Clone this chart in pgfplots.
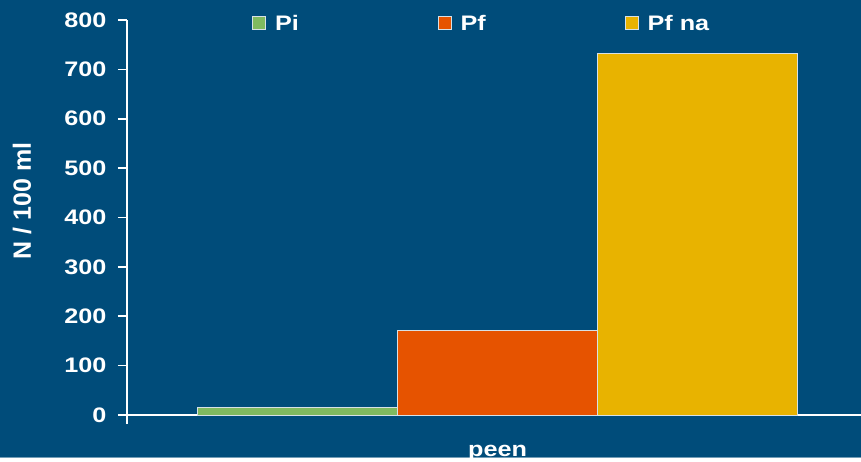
\documentclass[border=0pt]{standalone}
\usepackage{fontspec}
\setmainfont{Liberation Sans}
\usepackage{graphicx}
\usepackage{pgfplots}
\pgfplotsset{compat=1.18}

\definecolor{bgblue}{RGB}{0,76,122}
\definecolor{piGreen}{RGB}{128,186,96}
\definecolor{pfOrange}{RGB}{230,83,0}
\definecolor{pfnaYellow}{RGB}{232,179,0}
\definecolor{edge}{RGB}{215,225,230}
\newcommand{\wide}[1]{\scalebox{1.2}[1]{#1}}

\begin{document}
\begin{tikzpicture}[x=1pt,y=1pt]
\path[use as bounding box] (0,0) rectangle (861,461);
\fill[white] (0,0) rectangle (861,461);
\fill[bgblue] (0,4) rectangle (861,461);
\draw[bgblue!55!white, line width=0.6pt] (0,4) -- (861,4);
\begin{axis}[
  at={(127pt,46pt)}, anchor=south west,
  width=734pt, height=395pt, scale only axis,
  xmin=-0.6175, xmax=0.6058,
  ymin=0, ymax=800,
  ytick={0,100,...,800},
  xtick=\empty,
  extra x ticks={-0.6175}, extra x tick labels={},
  axis lines*=left,
  axis line style={white, line width=1.6pt},
  tick style={white, line width=1.6pt},
  tick align=outside, major tick length=9pt,
  font=\fontsize{21}{21}\selectfont\bfseries,
  ticklabel style={white},
  yticklabel style={xshift=-8pt},
  /pgf/number format/assume math mode=true,
  yticklabel={\wide{\pgfmathprintnumber{\tick}}},
  ylabel={N / 100 ml},
  ylabel style={font=\fontsize{25}{25}\selectfont\bfseries, white,
    at={(axis description cs:-0.143,0.542)}, anchor=center},
  xlabel={\wide{peen}},
  xlabel style={white, at={(axis description cs:0.5048,-0.1038)}, anchor=base},
  ybar=0pt, bar width=200pt,
  legend columns=3,
  legend image code/.code={\draw[#1, draw=edge, line width=0.8pt] (0pt,-6.5pt) rectangle (13pt,6.5pt);},
  legend style={draw=none, fill=none, text=white, inner sep=0pt,
    at={(axis description cs:0.1703,0.992)}, anchor=west,
    /tikz/every odd column/.append style={column sep=7pt},
    /tikz/column 2/.style={column sep=137pt},
    /tikz/column 4/.style={column sep=137pt}},
]
\addplot[fill=piGreen, draw=edge, line width=0.8pt] coordinates {(0,15)};
\addlegendentry{\wide{Pi}}
\addplot[fill=pfOrange, draw=edge, line width=0.8pt] coordinates {(0,171)};
\addlegendentry{\wide{Pf}}
\addplot[fill=pfnaYellow, draw=edge, line width=0.8pt] coordinates {(0,733)};
\addlegendentry{\wide{Pf na}}
\end{axis}
\end{tikzpicture}
\end{document}
